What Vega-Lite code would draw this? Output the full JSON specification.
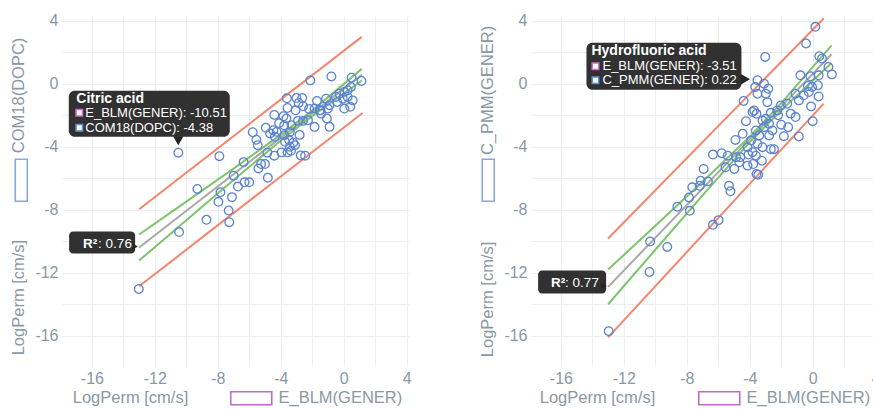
{
  "$schema": "https://vega.github.io/schema/vega-lite/v6.json",
  "background": "white",
  "padding": {"left": 10, "top": 12, "right": 0, "bottom": 0},
  "spacing": 67,
  "resolve": {"scale": {"stroke": "independent", "opacity": "independent"}, "legend": {"stroke": "independent", "opacity": "independent"}},
  "config": {
    "view": {"stroke": null},
    "font": "Liberation Sans",
    "axis": {
      "domain": false, "ticks": false, "gridColor": "#eceff1", "gridWidth": 1,
      "labelColor": "#8a98a3", "titleColor": "#8a98a3", "labelFontSize": 16,
      "titleFontSize": 16.5, "titleFontWeight": "normal", "labelFont": "Liberation Sans", "titleFont": "Liberation Sans"
    },
    "legend": {"labelFont": "Liberation Sans", "labelFontSize": 16.5, "labelColor": "#8a98a3", "padding": 0, "labelLimit": 300}
  },
  "datasets": {
    "ptsL": [
      {"x":-13.02,"y":-13.03},{"x":-10.46,"y":-9.42},{"x":-10.51,"y":-4.38},{"x":-9.3,"y":-6.68},{"x":-8.72,"y":-8.64},
      {"x":-7.96,"y":-7.5},{"x":-7.31,"y":-8.05},{"x":-7.27,"y":-8.79},{"x":-7.83,"y":-6.89},{"x":-7.9,"y":-4.6},
      {"x":-7.1,"y":-7.2},{"x":-6.99,"y":-5.84},{"x":-6.72,"y":-6.53},{"x":-6.3,"y":-6.26},{"x":-6.0,"y":-6.26},
      {"x":-6.36,"y":-4.98},{"x":-5.42,"y":-5.38},{"x":-5.25,"y":-5.1},{"x":-5.0,"y":-5.1},{"x":-4.82,"y":-5.97},
      {"x":-5.78,"y":-3.08},{"x":-5.55,"y":-3.56},{"x":-5.46,"y":-3.9},{"x":-4.95,"y":-2.8},{"x":-4.41,"y":-1.98},
      {"x":-4.85,"y":-4.38},{"x":-4.41,"y":-4.57},{"x":-3.95,"y":-4.36},{"x":-3.57,"y":-4.36},{"x":-3.42,"y":-4.0},
      {"x":-3.47,"y":-3.58},{"x":-3.21,"y":-3.75},{"x":-2.73,"y":-4.55},{"x":-2.45,"y":-4.57},{"x":-2.8,"y":-3.25},
      {"x":-3.78,"y":-3.27},{"x":-4.37,"y":-3.37},{"x":-4.68,"y":-3.16},{"x":-4.47,"y":-2.95},{"x":-4.26,"y":-3.06},
      {"x":-3.61,"y":-0.93},{"x":-3.0,"y":-0.91},{"x":-2.64,"y":-0.91},{"x":-2.86,"y":-1.22},{"x":-3.57,"y":-1.54},
      {"x":-2.58,"y":-1.43},{"x":-3.06,"y":-1.69},{"x":-3.83,"y":-2.07},{"x":-3.64,"y":-2.21},{"x":-3.78,"y":-2.64},
      {"x":-3.42,"y":-3.06},{"x":-3.32,"y":-2.64},{"x":-2.9,"y":-2.36},{"x":-2.58,"y":-2.36},{"x":-2.27,"y":-2.32},
      {"x":-1.85,"y":-2.74},{"x":-0.9,"y":-2.74},{"x":-1.07,"y":-2.21},{"x":-1.43,"y":-1.9},{"x":-1.12,"y":-0.95},
      {"x":-0.9,"y":-1.37},{"x":-1.0,"y":-1.58},{"x":-1.53,"y":-1.69},{"x":-0.49,"y":-0.84},{"x":-0.27,"y":-0.63},
      {"x":0.04,"y":-0.52},{"x":0.25,"y":-0.42},{"x":-0.06,"y":-0.95},{"x":0.25,"y":-0.84},{"x":0.57,"y":-1.06},
      {"x":-0.42,"y":-1.16},{"x":0.04,"y":-1.58},{"x":0.42,"y":-1.47},{"x":0.46,"y":-0.21},{"x":-2.12,"y":0.21},
      {"x":-0.78,"y":0.46},{"x":0.5,"y":0.38},{"x":1.13,"y":0.17},{"x":-3.73,"y":-3.69},{"x":-3.1,"y":-3.9},
      {"x":-3.35,"y":-4.26},{"x":-1.85,"y":-1.58},{"x":-1.47,"y":-1.69},{"x":-4.1,"y":-2.5},{"x":-2.2,"y":-1.6},
      {"x":-1.7,"y":-1.1}
    ],
    "ptsR": [
      {"x":-12.96,"y":-15.71},{"x":-10.37,"y":-11.95},{"x":-10.33,"y":-10.02},{"x":-9.24,"y":-10.36},{"x":-8.6,"y":-7.81},
      {"x":-7.81,"y":-8.07},{"x":-7.86,"y":-7.22},{"x":-6.34,"y":-8.96},{"x":-5.98,"y":-8.66},{"x":-7.12,"y":-6.16},
      {"x":-6.66,"y":-6.2},{"x":-7.65,"y":-6.58},{"x":-7.18,"y":-6.48},{"x":-5.32,"y":-6.48},{"x":-5.23,"y":-6.83},
      {"x":-6.93,"y":-5.41},{"x":-5.54,"y":-5.31},{"x":-4.98,"y":-5.41},{"x":-4.66,"y":-4.99},{"x":-4.14,"y":-5.2},
      {"x":-6.34,"y":-4.5},{"x":-5.78,"y":-4.41},{"x":-5.4,"y":-4.57},{"x":-4.87,"y":-4.67},{"x":-4.6,"y":-4.67},
      {"x":-4.08,"y":-4.5},{"x":-3.61,"y":-4.57},{"x":-3.23,"y":-4.89},{"x":-3.78,"y":-5.1},{"x":-3.57,"y":-5.73},
      {"x":-3.46,"y":-5.78},{"x":-4.91,"y":-3.57},{"x":-4.45,"y":-3.18},{"x":-3.92,"y":-3.61},{"x":-3.51,"y":-3.82},
      {"x":-4.14,"y":-4.03},{"x":-3.82,"y":-4.35},{"x":-3.19,"y":-4.03},{"x":-2.66,"y":-4.16},{"x":-2.46,"y":-4.16},
      {"x":-3.19,"y":-2.34},{"x":-2.98,"y":-2.23},{"x":-2.77,"y":-2.55},{"x":-3.09,"y":-2.76},{"x":-3.61,"y":-2.97},
      {"x":-3.4,"y":-3.29},{"x":-2.77,"y":-3.29},{"x":-2.56,"y":-2.97},{"x":-2.03,"y":-1.38},{"x":-1.62,"y":-1.27},
      {"x":-2.25,"y":-1.7},{"x":-2.66,"y":-1.85},{"x":-1.09,"y":-2.12},{"x":-1.56,"y":-2.76},{"x":-1.83,"y":-3.33},
      {"x":-0.88,"y":-3.35},{"x":0.0,"y":-2.38},{"x":-1.09,"y":-0.64},{"x":-0.88,"y":-1.06},{"x":-0.57,"y":-0.74},
      {"x":-0.25,"y":-0.53},{"x":-0.04,"y":-0.21},{"x":0.38,"y":-0.81},{"x":-0.1,"y":-1.44},{"x":-4.24,"y":-2.38},
      {"x":-3.72,"y":-1.7},{"x":-3.57,"y":-1.91},{"x":-3.82,"y":-1.8},{"x":-4.39,"y":-1.1},{"x":-2.88,"y":-1.17},
      {"x":-3.51,"y":-0.64},{"x":-3.65,"y":-0.21},{"x":-3.09,"y":0.0},{"x":-2.82,"y":-0.32},{"x":-2.98,"y":-0.64},
      {"x":-3.51,"y":0.22},{"x":0.17,"y":3.61},{"x":-0.42,"y":2.55},{"x":-3.02,"y":1.7},{"x":0.42,"y":1.74},
      {"x":0.59,"y":1.59},{"x":1.22,"y":0.59},{"x":-0.78,"y":0.53},{"x":-0.15,"y":0.47},{"x":0.38,"y":0.53},
      {"x":1.0,"y":1.06},{"x":0.33,"y":-0.1},{"x":-0.3,"y":-0.15},{"x":-2.2,"y":-2.0},{"x":-1.4,"y":-1.9},
      {"x":-2.0,"y":-2.6}
    ],
    "linesL": [
      {"s":"piU","x":-13,"y":-7.97},{"s":"piU","x":1.15,"y":2.97},
      {"s":"piL","x":-13,"y":-12.86},{"s":"piL","x":1.2,"y":-1.86},
      {"s":"fit","x":-13,"y":-10.4},{"s":"fit","x":1.15,"y":0.57},
      {"s":"ciU","x":-13,"y":-9.57},{"s":"ciU","x":-10,"y":-7.49},{"s":"ciU","x":-7,"y":-5.39},{"s":"ciU","x":-4,"y":-3.25},{"s":"ciU","x":-2,"y":-1.7},{"s":"ciU","x":1.15,"y":0.94},
      {"s":"ciL","x":-13,"y":-11.23},{"s":"ciL","x":-10,"y":-8.67},{"s":"ciL","x":-7,"y":-6.11},{"s":"ciL","x":-4,"y":-3.61},{"s":"ciL","x":-2,"y":-2.06},{"s":"ciL","x":1.15,"y":0.2}
    ],
    "linesR": [
      {"s":"piU","x":-13,"y":-9.83},{"s":"piU","x":0.7,"y":4.14},
      {"s":"piL","x":-13,"y":-16.1},{"s":"piL","x":0.7,"y":-1.27},
      {"s":"fit","x":-13,"y":-12.9},{"s":"fit","x":1.2,"y":1.87},
      {"s":"ciU","x":-13,"y":-11.8},{"s":"ciU","x":-10,"y":-9.02},{"s":"ciU","x":-7,"y":-6.23},{"s":"ciU","x":-4,"y":-3.37},{"s":"ciU","x":-2,"y":-1.23},{"s":"ciU","x":1.2,"y":2.43},
      {"s":"ciL","x":-13,"y":-14.0},{"s":"ciL","x":-10,"y":-10.54},{"s":"ciL","x":-7,"y":-7.09},{"s":"ciL","x":-4,"y":-3.71},{"s":"ciL","x":-2,"y":-1.69},{"s":"ciL","x":1.2,"y":1.31}
    ],
    "annL": [{"x":-10.51,"y":-4.38,"name":"Citric acid","l1":"E_BLM(GENER): -10.51","l2":"COM18(DOPC): -4.38"}],
    "annR": [{"x":-3.51,"y":0.22,"name":"Hydrofluoric acid","l1":"E_BLM(GENER): -3.51","l2":"C_PMM(GENER): 0.22"}],
    "r2L": [{"x":-13,"y":-10.4,"r":"R²","v":": 0.76"}],
    "r2R": [{"x":-13,"y":-12.9,"r":"R²","v":": 0.77"}]
  },
  "hconcat": [
    {
      "width": 347, "height": 351,
      "encoding": {
        "x": {"field": "x", "type": "quantitative", "scale": {"domain": [-17.9, 4.15], "nice": false, "zero": false},
              "axis": {"values": [-16,-14,-12,-10,-8,-6,-4,-2,0,2,4], "labelExpr": "datum.value % 4 === 0 ? '' + datum.value : ''", "labelPadding": 4, "titlePadding": 3,
                       "title": "LogPerm [cm/s]", "titleX": 68}},
        "y": {"field": "y", "type": "quantitative", "scale": {"domain": [-17.92, 4.36], "nice": false, "zero": false},
              "axis": {"values": [-16,-14,-12,-10,-8,-6,-4,-2,0,2,4], "labelExpr": "datum.value % 4 === 0 ? '' + datum.value : ''", "labelPadding": 4, "titlePadding": 8, "titleY": 181,
                       "title": "LogPerm [cm/s]\u2003\u2003\u2003\u2003\u2003\u2005COM18(DOPC)"}}
      },
      "layer": [
        {"data": {"name": "linesL"}, "mark": {"type": "line"},
         "encoding": {
           "color": {"field": "s", "type": "nominal", "scale": {"domain": ["piU","piL","ciU","ciL","fit"], "range": ["#f4866c","#f4866c","#7dc46c","#7dc46c","#a8a8a8"]}, "legend": null},
           "strokeWidth": {"field": "s", "type": "nominal", "scale": {"domain": ["piU","piL","ciU","ciL","fit"], "range": [2,2,1,1,1.3]}, "legend": null}
         }},
        {"data": {"name": "ptsL"}, "mark": {"type": "point", "shape": "circle", "filled": false, "size": 75, "strokeWidth": 1.3, "color": "#6b94cf"},
         "encoding": {
           "stroke": {"datum": "COM18(DOPC)", "type": "nominal", "scale": {"range": ["#5b84d0"]},
                      "legend": {"orient": "none", "legendX": -49, "legendY": 157, "title": null, "symbolType": "M-1,-3.5V3.5H1V-3.5Z", "symbolSize": 144, "symbolStrokeWidth": 1.6, "symbolFillColor": "transparent", "labelExpr": "''"}},
           "opacity": {"datum": "E_BLM(GENER)", "type": "nominal", "scale": {"range": [1]},
                       "legend": {"orient": "none", "legendX": 181, "legendY": 375, "title": null, "symbolType": "M-3.154,-1H3.154V1H-3.154Z", "symbolSize": 169, "symbolStrokeWidth": 1.6, "labelOffset": 19,
                                  "symbolStrokeColor": "#bb6cc4", "symbolFillColor": "transparent",
                                  "encode": {"symbols": {"update": {"stroke": {"value": "#bb6cc4"}, "fill": {"value": "transparent"}}}}}}
         }},
        {"data": {"name": "annL"}, "mark": {"type": "rect", "width": 161, "height": 46, "xOffset": -29, "yOffset": -39, "cornerRadius": 6, "color": "#262626", "opacity": 0.95}},
        {"data": {"name": "annL"}, "mark": {"type": "point", "shape": "triangle-down", "filled": true, "size": 110, "yOffset": -12, "color": "#262626", "opacity": 1}},
        {"data": {"name": "annL"}, "mark": {"type": "text", "align": "left", "baseline": "middle", "dx": -102, "dy": -54, "fontSize": 14, "fontWeight": "bold", "color": "white"}, "encoding": {"text": {"field": "name"}}},
        {"data": {"name": "annL"}, "mark": {"type": "text", "align": "left", "baseline": "middle", "dx": -93, "dy": -40, "fontSize": 13, "color": "white"}, "encoding": {"text": {"field": "l1"}}},
        {"data": {"name": "annL"}, "mark": {"type": "text", "align": "left", "baseline": "middle", "dx": -93, "dy": -25, "fontSize": 13, "color": "white"}, "encoding": {"text": {"field": "l2"}}},
        {"data": {"name": "annL"}, "mark": {"type": "point", "shape": "square", "filled": true, "size": 42, "xOffset": -99, "yOffset": -40, "fill": "white", "stroke": "#d06dc0", "strokeWidth": 1.6, "opacity": 1}},
        {"data": {"name": "annL"}, "mark": {"type": "point", "shape": "square", "filled": true, "size": 42, "xOffset": -99, "yOffset": -25, "fill": "white", "stroke": "#5b8fd3", "strokeWidth": 1.6, "opacity": 1}},
        {"data": {"name": "r2L"}, "mark": {"type": "rect", "width": 66, "height": 22, "xOffset": -37, "yOffset": -5, "cornerRadius": 4, "color": "#262626", "opacity": 0.95}},
        {"data": {"name": "r2L"}, "mark": {"type": "point", "shape": "triangle-right", "filled": true, "size": 40, "xOffset": -4, "yOffset": -1, "color": "#262626", "opacity": 1}},
        {"data": {"name": "r2L"}, "mark": {"type": "text", "align": "left", "baseline": "middle", "dx": -56, "dy": -4, "fontSize": 13.5, "fontWeight": "bold", "color": "white"}, "encoding": {"text": {"field": "r"}}},
        {"data": {"name": "r2L"}, "mark": {"type": "text", "align": "left", "baseline": "middle", "dx": -41, "dy": -4, "fontSize": 13.5, "color": "white"}, "encoding": {"text": {"field": "v"}}}
      ]
    },
    {
      "width": 347, "height": 351,
      "encoding": {
        "x": {"field": "x", "type": "quantitative", "scale": {"domain": [-17.9, 4.15], "nice": false, "zero": false},
              "axis": {"values": [-16,-14,-12,-10,-8,-6,-4,-2,0,2,4], "labelExpr": "datum.value % 4 === 0 ? '' + datum.value : ''", "labelPadding": 4, "titlePadding": 3,
                       "title": "LogPerm [cm/s]", "titleX": 66}},
        "y": {"field": "y", "type": "quantitative", "scale": {"domain": [-17.92, 4.36], "nice": false, "zero": false},
              "axis": {"values": [-16,-14,-12,-10,-8,-6,-4,-2,0,2,4], "labelExpr": "datum.value % 4 === 0 ? '' + datum.value : ''", "labelPadding": 4, "titlePadding": 8, "titleY": 176,
                       "title": "LogPerm [cm/s]\u2003\u2003\u2003\u2003\u2003\u2005C_PMM(GENER)"}}
      },
      "layer": [
        {"data": {"name": "linesR"}, "mark": {"type": "line"},
         "encoding": {
           "color": {"field": "s", "type": "nominal", "scale": {"domain": ["piU","piL","ciU","ciL","fit"], "range": ["#f4866c","#f4866c","#7dc46c","#7dc46c","#a8a8a8"]}, "legend": null},
           "strokeWidth": {"field": "s", "type": "nominal", "scale": {"domain": ["piU","piL","ciU","ciL","fit"], "range": [2,2,1,1,1.3]}, "legend": null}
         }},
        {"data": {"name": "ptsR"}, "mark": {"type": "point", "shape": "circle", "filled": false, "size": 75, "strokeWidth": 1.3, "color": "#6b94cf"},
         "encoding": {
           "stroke": {"datum": "C_PMM(GENER)", "type": "nominal", "scale": {"range": ["#5b84d0"]},
                      "legend": {"orient": "none", "legendX": -51, "legendY": 157, "title": null, "symbolType": "M-1,-3.5V3.5H1V-3.5Z", "symbolSize": 144, "symbolStrokeWidth": 1.6, "symbolFillColor": "transparent", "labelExpr": "''"}},
           "opacity": {"datum": "E_BLM(GENER)", "type": "nominal", "scale": {"range": [1]},
                       "legend": {"orient": "none", "legendX": 180, "legendY": 375, "title": null, "symbolType": "M-3.154,-1H3.154V1H-3.154Z", "symbolSize": 169, "symbolStrokeWidth": 1.6, "labelOffset": 19,
                                  "symbolStrokeColor": "#bb6cc4", "symbolFillColor": "transparent",
                                  "encode": {"symbols": {"update": {"stroke": {"value": "#bb6cc4"}, "fill": {"value": "transparent"}}}}}}
         }},
        {"data": {"name": "annR"}, "mark": {"type": "rect", "width": 155, "height": 47, "xOffset": -93.5, "yOffset": -14, "cornerRadius": 6, "color": "#262626", "opacity": 0.95}},
        {"data": {"name": "annR"}, "mark": {"type": "point", "shape": "triangle-right", "filled": true, "size": 110, "xOffset": -12, "yOffset": -1, "color": "#262626", "opacity": 1}},
        {"data": {"name": "annR"}, "mark": {"type": "text", "align": "left", "baseline": "middle", "dx": -166, "dy": -29, "fontSize": 14, "fontWeight": "bold", "color": "white"}, "encoding": {"text": {"field": "name"}}},
        {"data": {"name": "annR"}, "mark": {"type": "text", "align": "left", "baseline": "middle", "dx": -155, "dy": -14, "fontSize": 13, "color": "white"}, "encoding": {"text": {"field": "l1"}}},
        {"data": {"name": "annR"}, "mark": {"type": "text", "align": "left", "baseline": "middle", "dx": -155, "dy": 0, "fontSize": 13, "color": "white"}, "encoding": {"text": {"field": "l2"}}},
        {"data": {"name": "annR"}, "mark": {"type": "point", "shape": "square", "filled": true, "size": 42, "xOffset": -162, "yOffset": -14, "fill": "white", "stroke": "#d06dc0", "strokeWidth": 1.6, "opacity": 1}},
        {"data": {"name": "annR"}, "mark": {"type": "point", "shape": "square", "filled": true, "size": 42, "xOffset": -162, "yOffset": 0, "fill": "white", "stroke": "#5b8fd3", "strokeWidth": 1.6, "opacity": 1}},
        {"data": {"name": "r2R"}, "mark": {"type": "rect", "width": 68, "height": 23, "xOffset": -36, "yOffset": -5, "cornerRadius": 4, "color": "#262626", "opacity": 0.95}},
        {"data": {"name": "r2R"}, "mark": {"type": "point", "shape": "triangle-right", "filled": true, "size": 40, "xOffset": -4, "yOffset": -1, "color": "#262626", "opacity": 1}},
        {"data": {"name": "r2R"}, "mark": {"type": "text", "align": "left", "baseline": "middle", "dx": -57, "dy": -4, "fontSize": 13.5, "fontWeight": "bold", "color": "white"}, "encoding": {"text": {"field": "r"}}},
        {"data": {"name": "r2R"}, "mark": {"type": "text", "align": "left", "baseline": "middle", "dx": -43, "dy": -4, "fontSize": 13.5, "color": "white"}, "encoding": {"text": {"field": "v"}}}
      ]
    }
  ]
}
